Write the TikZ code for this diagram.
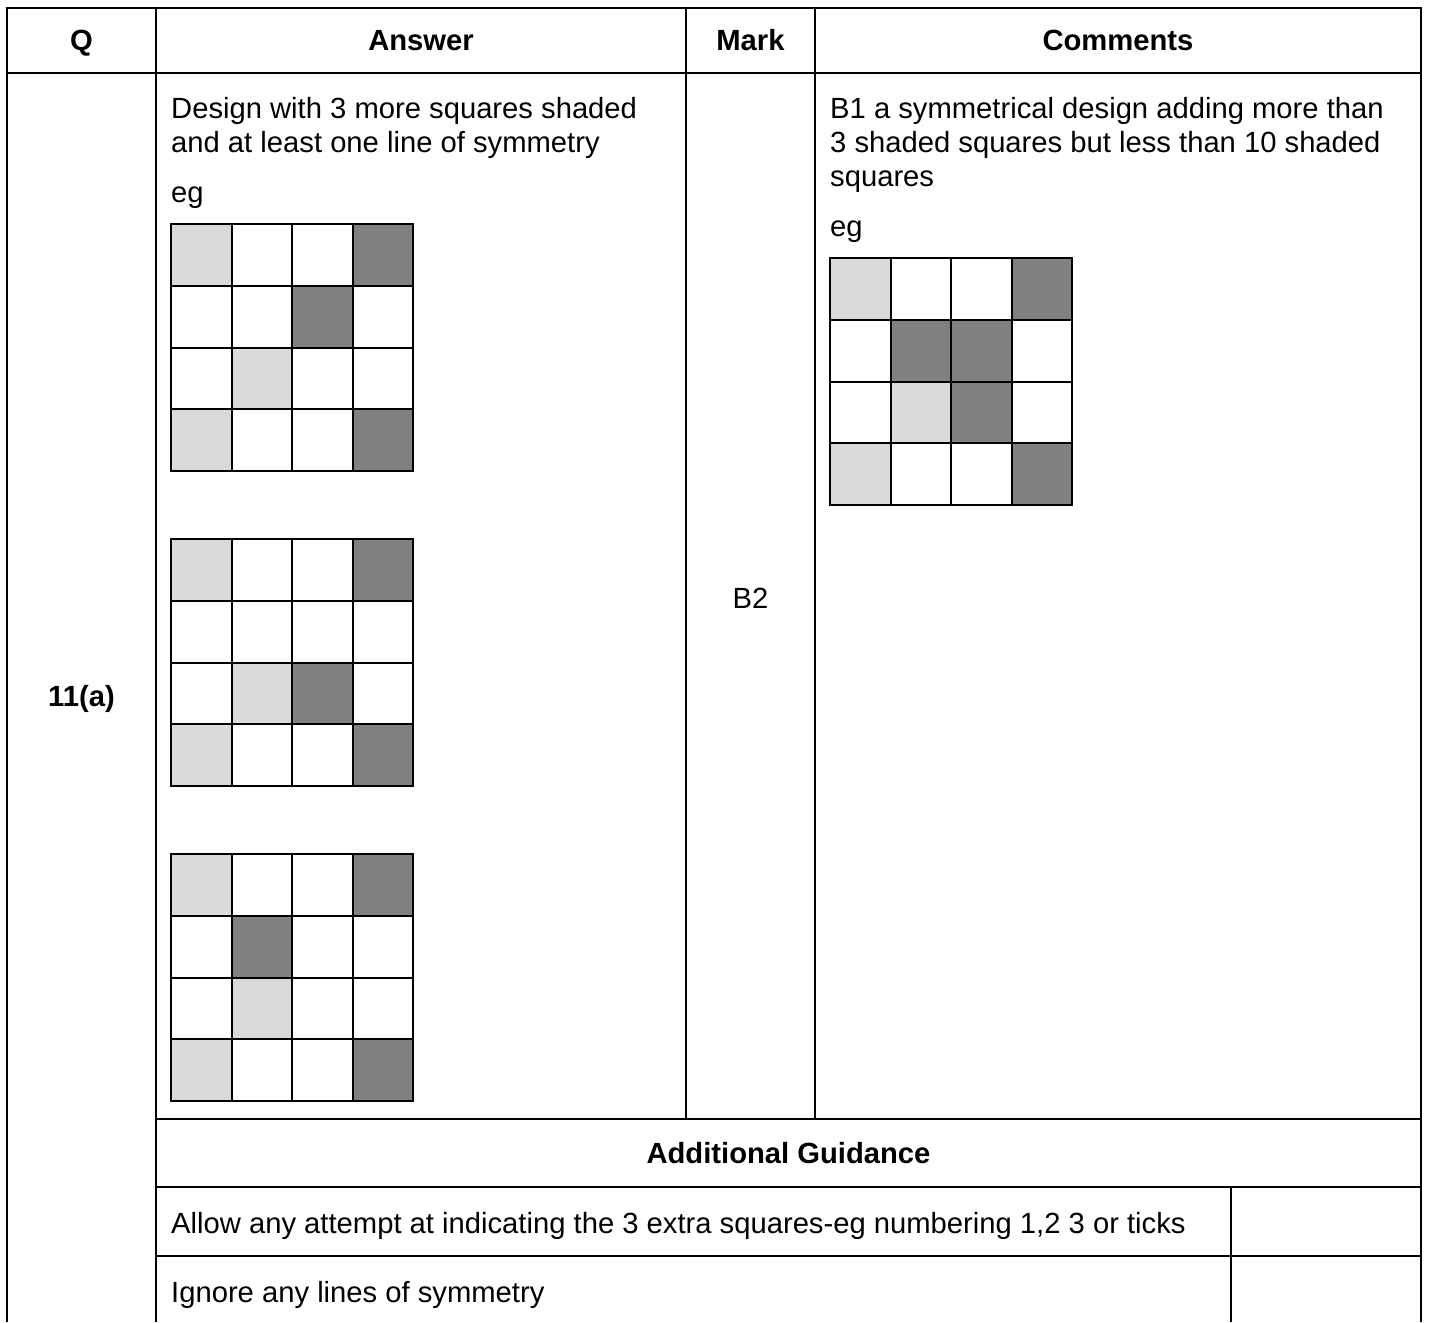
\documentclass[tikz,border=0pt]{standalone}
\usepackage{fontspec}
\setmainfont{Liberation Sans}
\usetikzlibrary{positioning}
\definecolor{LightCell}{HTML}{D9D9D9}
\definecolor{DarkCell}{HTML}{808080}

\begin{document}
\begin{tikzpicture}[x=1pt,y=-1pt,
    rule/.style={line width=2pt},
    cellline/.style={line width=2pt},
    txt/.style={font=\fontsize{29.2}{34}\selectfont,inner sep=0pt},
    head/.style={txt,font=\fontsize{29.2}{34}\selectfont\bfseries}]
        \useasboundingbox (0,0) rectangle (1429,1322);
        \foreach \gx/\gy in {171/224,171/539,171/854,830/258}{
          \foreach \c/\r in {0/0,0/3,1/2}{\fill[LightCell] (\gx+\c*60.5,\gy+\r*61.8) rectangle ++(60.5,61.8);}
          \foreach \c/\r in {3/0,3/3}{\fill[DarkCell] (\gx+\c*60.5,\gy+\r*61.8) rectangle ++(60.5,61.8);}
        }
        \foreach \gx/\gy/\c/\r in {171/224/2/1,171/539/2/2,171/854/1/1,830/258/1/1,830/258/2/1,830/258/2/2}{\fill[DarkCell] (\gx+\c*60.5,\gy+\r*61.8) rectangle ++(60.5,61.8);}
        \foreach \gx/\gy in {171/224,171/539,171/854,830/258}{
          \foreach \c in {0,...,3}{\foreach \r in {0,...,3}{\draw[cellline] (\gx+\c*60.5,\gy+\r*61.8) rectangle ++(60.5,61.8);}}
        }
        \draw[rule] (7,1322) -- (7,8) -- (1421,8) -- (1421,1322);
        \draw[rule] (7,73) -- (1421,73);
        \draw[rule] (156,8) -- (156,1322);
        \draw[rule] (686,8) -- (686,1119);
        \draw[rule] (815,8) -- (815,1119);
        \foreach \y in {1119,1187,1256}{\draw[rule] (156,\y) -- (1421,\y);}
        \draw[rule] (1231,1187) -- (1231,1322);
        \node[head,anchor=base] (hq) at (81.5,51) {Q};
        \node[head,anchor=base] (hanswer) at (421,51) {Answer};
        \node[head,anchor=base] (hmark) at (750.5,51) {Mark};
        \node[head,anchor=base] (hcomments) at (1118,51) {Comments};
        \node[head,anchor=base] (qnum) at (81.5,706) {11(a)};
        \node[txt,anchor=base west] (ans1) at (171,118) {Design with 3 more squares shaded};
        \node[txt,anchor=base west] (ans2) at (171,152) {and at least one line of symmetry};
        \node[txt,anchor=base west] (anseg) at (171,202) {eg};
        \node[txt,anchor=base] (mark) at (750.5,608) {B2};
        \node[txt,anchor=base west] (com1) at (830,118) {B1 a symmetrical design adding more than};
        \node[txt,anchor=base west] (com2) at (830,152) {3 shaded squares but less than 10 shaded};
        \node[txt,anchor=base west] (com3) at (830,186) {squares};
        \node[txt,anchor=base west] (comeg) at (830,236) {eg};
        \node[head,anchor=base] (guide) at (788.5,1163) {Additional Guidance};
        \node[txt,anchor=base west] (allow) at (171,1233) {Allow any attempt at indicating the 3 extra squares-eg numbering 1,2 3 or ticks};
        \node[txt,anchor=base west] (ignore) at (171,1302) {Ignore any lines of symmetry};
      \end{tikzpicture}
\end{document}
